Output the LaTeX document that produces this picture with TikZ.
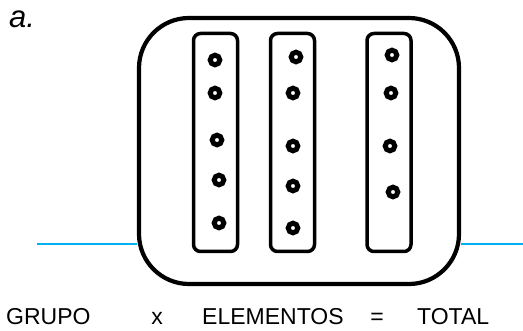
\documentclass[tikz,border=0pt]{standalone}
\usepackage{fontspec}
\setmainfont{Liberation Sans}
\definecolor{lineblue}{RGB}{0,176,240}
\begin{document}
\begin{tikzpicture}[x=1pt,y=-1pt,
  outerbox/.style={draw=black,fill=white,line width=4.2pt,rounded corners=50pt,
    minimum width=320pt,minimum height=266pt,inner sep=0pt},
  setbox/.style={draw=black,line width=3.5pt,rounded corners=7pt,
    minimum width=44pt,minimum height=218pt,inner sep=0pt},
  elem/.style={circle,draw=black,line width=5pt,minimum size=9.6pt,inner sep=0pt},
  label/.style={inner sep=0pt,font=\fontsize{23}{23}\selectfont,anchor=base west},
  baseline line/.style={draw=lineblue,line width=1.2pt}]
\useasboundingbox (0,0) rectangle (523,331);
\fill[white] (0,0) rectangle (523,331);

% horizontal guide line, broken by the group box
\coordinate (lineL) at (37,244);
\coordinate (lineR) at (523,244);
\node[outerbox] (group) at (299,151) {};
\draw[baseline line] (lineL) -- (lineL -| group.west);
\draw[baseline line] (lineR -| group.east) -- (lineR);

% three sets inside the group
\node[setbox] (setA) at (215.5,142.5) {};
\node[setbox] (setB) at (292.5,142.5) {};
\node[setbox] (setC) at (389,142.5) {};

% elements of the first set
\node[elem] (a1) at (215,60) {};
\node[elem] (a2) at (215,93) {};
\node[elem] (a3) at (217,140) {};
\node[elem] (a4) at (219,180) {};
\node[elem] (a5) at (219,223) {};
% elements of the second set
\node[elem] (b1) at (296,57) {};
\node[elem] (b2) at (293,93) {};
\node[elem] (b3) at (293,146) {};
\node[elem] (b4) at (293,186) {};
\node[elem] (b5) at (293,228) {};
% elements of the third set
\node[elem] (c1) at (392,55) {};
\node[elem] (c2) at (391,93) {};
\node[elem] (c3) at (390,146) {};
\node[elem] (c4) at (393,192) {};

% item letter
\node[inner sep=0pt,anchor=base west,font=\fontsize{31}{31}\selectfont\itshape] (tag) at (9,28) {a.};

% the product relation
\node[label] (grupo) at (6,325) {GRUPO};
\node[label,anchor=base] (times) at (157,325) {x};
\node[label] (elementos) at (202,325) {ELEMENTOS};
\node[label,anchor=base] (equals) at (377,325) {=};
\node[label] (total) at (417,325) {TOTAL};
\end{tikzpicture}
\end{document}
